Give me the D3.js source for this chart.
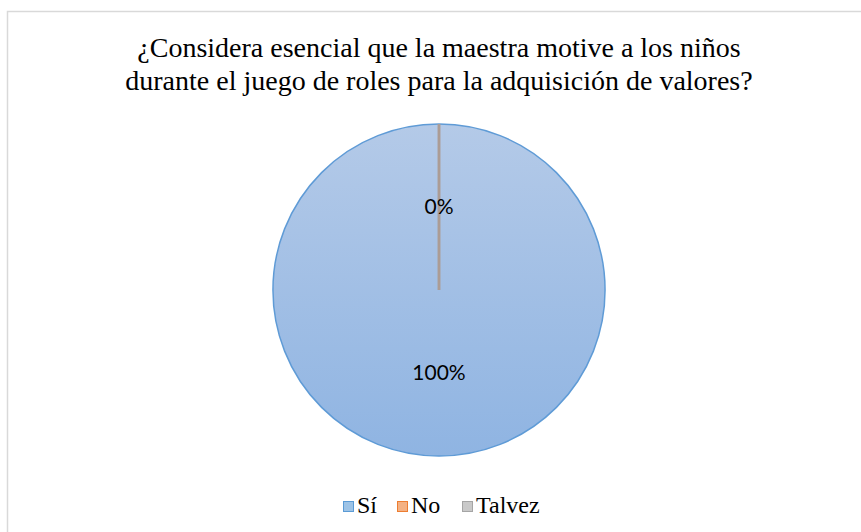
<!DOCTYPE html>
<html>
<head>
<meta charset="utf-8">
<script src="https://cdn.jsdelivr.net/npm/d3@7"></script>
<style>
  body { margin: 0; background: #fff; }
  svg { display: block; }
  .serif { font-family: "Times New Roman", "Liberation Serif", "Liberation Sans", sans-serif; }
</style>
</head>
<body>
<svg id="chart__svg" width="861" height="532"></svg>
<script>
const SVG = d3.select("#chart__svg");
const WIDTH = 861;
const HEIGHT = 532;

// data
const categories = ["Sí", "No", "Talvez"];
const values = [100, 0, 0];
const titleLines = [
  "¿Considera esencial que la maestra motive a los niños",
  "durante el juego de roles para la adquisición de valores?"
];

const COLORS = ["#5b9bd5", "#ed7d31", "#a5a5a5"];
const CENTER = { x: 439, y: 290 };
const RADIUS = 166;

// chart area border
SVG.append("rect")
  .attr("x", 7.5)
  .attr("y", 11.5)
  .attr("width", WIDTH)
  .attr("height", HEIGHT)
  .attr("fill", "#fff")
  .attr("stroke", "#d9d9d9")
  .attr("stroke-width", 1.5);

// gradient for the blue slice
const defs = SVG.append("defs");
const grad = defs.append("linearGradient")
  .attr("id", "siGrad")
  .attr("x1", 0).attr("y1", 0)
  .attr("x2", 0).attr("y2", 1);
grad.append("stop").attr("offset", "0%").attr("stop-color", "#b4cae8");
grad.append("stop").attr("offset", "100%").attr("stop-color", "#8fb4e2");

SVG.append("g")
  .attr("class", "title")
  .selectAll("text")
  .data(titleLines)
  .join("text")
  .attr("class", "serif")
  .attr("x", 439)
  .attr("y", (d, i) => 57 + i * 33)
  .attr("text-anchor", "middle")
  .attr("font-size", 28)
  .attr("fill", "#000")
  .text((d) => d);

const pie = d3.pie().sort(null).value((d) => d);
const arcs = pie(values);
const arc = d3.arc().innerRadius(0).outerRadius(RADIUS);
const labelArc = d3.arc().innerRadius(RADIUS * 0.5).outerRadius(RADIUS * 0.5);

const pieG = SVG.append("g")
  .attr("transform", "translate(" + CENTER.x + "," + CENTER.y + ")");

pieG.selectAll("path")
  .data(arcs)
  .join("path")
  .attr("d", arc)
  .attr("fill", (d, i) => (i === 0 ? "url(#siGrad)" : COLORS[i]))
  .attr("stroke", (d, i) => (i === 0 ? "#5f9bd6" : "#ab9c95"))
  .attr("stroke-width", (d, i) => (i === 0 ? 1.5 : 2.5));

// labels: Excel only shows one 0% where the empty slices overlap
const shownLabels = arcs.filter((d, i) => i < 2);
pieG.selectAll(".pie-label")
  .data(shownLabels)
  .join("text")
  .attr("class", "pie-label")
  .attr("transform", (d) => {
    const c = labelArc.centroid(d);
    return "translate(" + c[0] + "," + (c[1] + 7) + ")";
  })
  .attr("text-anchor", "middle")
  .style("font-family", "Lato, 'Noto Sans', sans-serif")
  .style("font-size", "21px")
  .attr("fill", "#000")
  .text((d) => Math.round(d.value) + "%");

// legend
const legendX = [343, 397, 462];
const legend = SVG.append("g").attr("class", "legend");
const items = legend.selectAll("g")
  .data(categories)
  .join("g")
  .attr("transform", (d, i) => "translate(" + legendX[i] + ",501)");
items.append("rect")
  .attr("x", 0.5)
  .attr("y", 0.5)
  .attr("width", 10)
  .attr("height", 10)
  .attr("fill", (d, i) => d3.interpolateRgb(COLORS[i], "#fff")(0.4))
  .attr("stroke", (d, i) => COLORS[i])
  .attr("stroke-width", 1);
items.append("text")
  .attr("class", "serif")
  .attr("x", 14)
  .attr("y", 12)
  .attr("font-size", 24)
  .attr("fill", "#000")
  .text((d) => d);
</script>
</body>
</html>
